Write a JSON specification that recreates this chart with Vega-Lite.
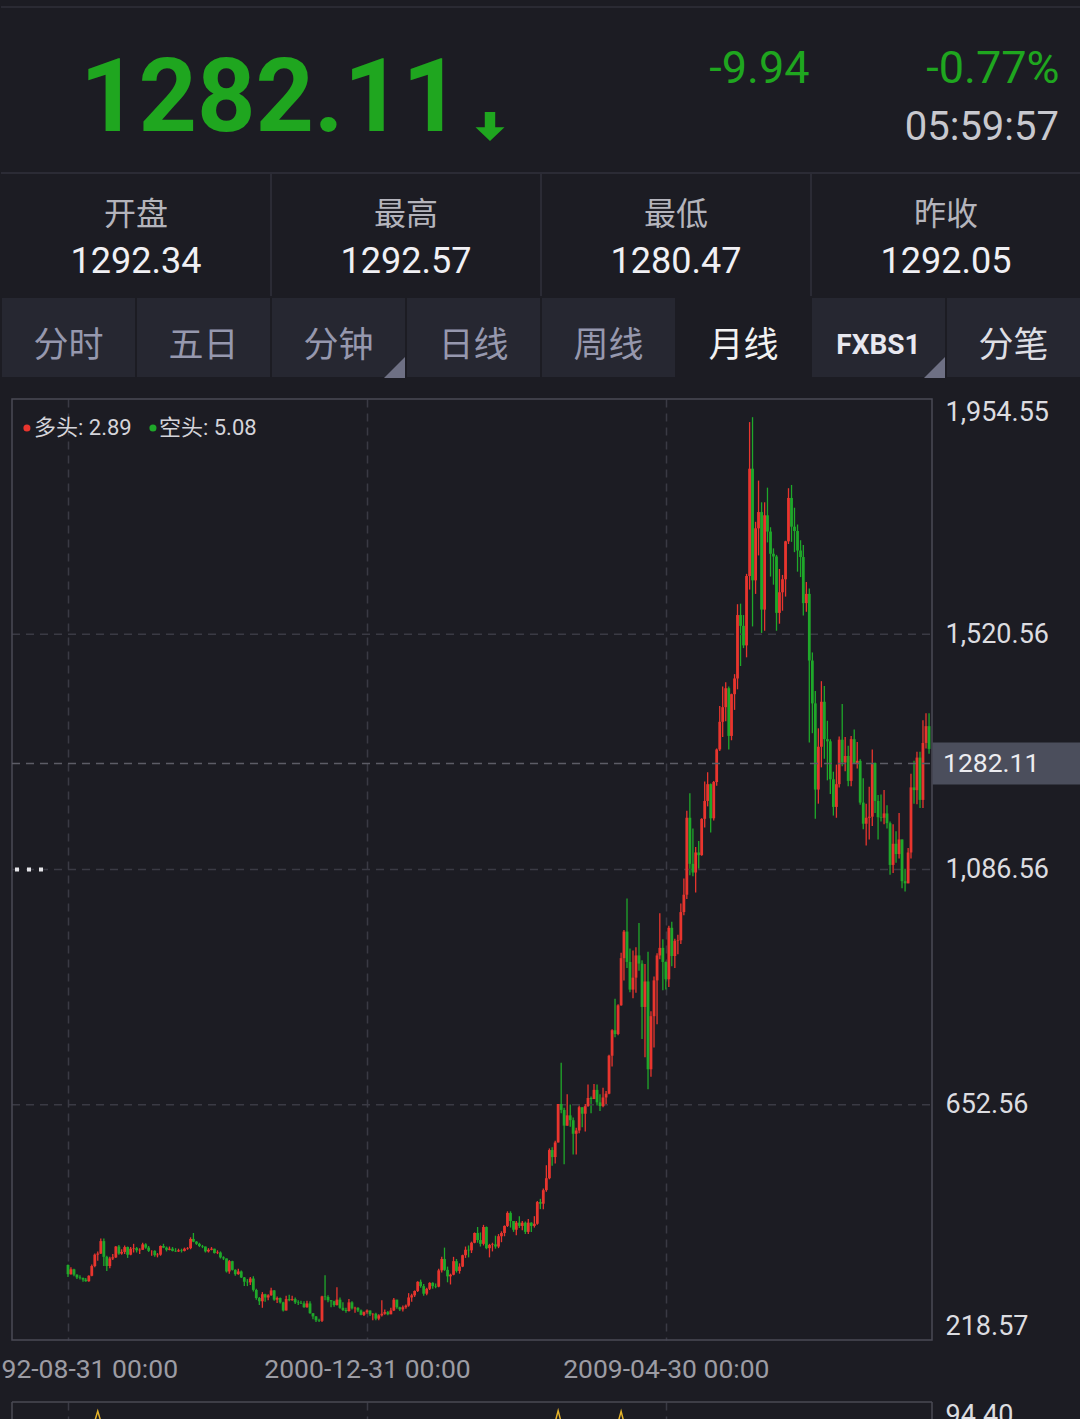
{
"$schema": "https://vega.github.io/schema/vega-lite/v6.json",
"background": "#1c1c23",
"padding": 0,
"config": {"view": {"stroke": null}, "font": "Roboto", "text": {"font": "Roboto"}, "axis": {"labelFont": "Roboto"}},
"datasets": {
"quote": [{"last": 1282.11, "chg": "-9.94", "pct": "-0.77%", "time": "05:59:57"}],
"stats": [{"name": "开盘", "v": 1292.34}, {"name": "最高", "v": 1292.57}, {"name": "最低", "v": 1280.47}, {"name": "昨收", "v": 1292.05}],
"tabs": [{"tab": "分时"}, {"tab": "五日"}, {"tab": "分钟"}, {"tab": "日线"}, {"tab": "周线"}, {"tab": "月线"}, {"tab": "FXBS1"}, {"tab": "分笔"}],
"ls": [{"name": "多头", "value": 2.89}, {"name": "空头", "value": 5.08}],
"yg": [{"v": 652.56}, {"v": 1086.56}, {"v": 1520.56}],
"ind": [
{"s":1,"d":"1993-05-10","v":80},{"s":1,"d":"1993-06-30","v":89.4},{"s":1,"d":"1993-08-20","v":80},
{"s":2,"d":"2006-03-15","v":80},{"s":2,"d":"2006-04-30","v":89.6},{"s":2,"d":"2006-06-15","v":80},
{"s":3,"d":"2007-12-15","v":80},{"s":3,"d":"2008-01-31","v":89.2},{"s":3,"d":"2008-03-15","v":80}
],
"k": [
{"d":"1992-08-31","o":357,"h":358,"l":335,"c":340},{"d":"1992-09-30","o":340,"h":353,"l":339,"c":349},{"d":"1992-10-31","o":349,"h":350,"l":336,"c":339},{"d":"1992-11-30","o":339,"h":340,"l":331,"c":334},{"d":"1992-12-31","o":334,"h":338,"l":330,"c":333},
{"d":"1993-01-31","o":333,"h":334,"l":326,"c":330},{"d":"1993-02-28","o":330,"h":333,"l":326,"c":327},{"d":"1993-03-31","o":327,"h":338,"l":326,"c":337},{"d":"1993-04-30","o":337,"h":358,"l":336,"c":355},{"d":"1993-05-31","o":355,"h":378,"l":353,"c":376},{"d":"1993-06-30","o":376,"h":382,"l":365,"c":378},{"d":"1993-07-31","o":378,"h":406,"l":377,"c":401},{"d":"1993-08-31","o":401,"h":406,"l":355,"c":372},{"d":"1993-09-30","o":372,"h":374,"l":346,"c":355},{"d":"1993-10-31","o":355,"h":372,"l":351,"c":369},{"d":"1993-11-30","o":369,"h":377,"l":366,"c":371},{"d":"1993-12-31","o":371,"h":392,"l":370,"c":391},
{"d":"1994-01-31","o":391,"h":394,"l":376,"c":378},{"d":"1994-02-28","o":378,"h":386,"l":376,"c":381},{"d":"1994-03-31","o":381,"h":393,"l":377,"c":390},{"d":"1994-04-30","o":390,"h":391,"l":370,"c":376},{"d":"1994-05-31","o":376,"h":390,"l":375,"c":387},{"d":"1994-06-30","o":387,"h":396,"l":380,"c":388},{"d":"1994-07-31","o":388,"h":390,"l":380,"c":384},{"d":"1994-08-31","o":384,"h":388,"l":377,"c":385},{"d":"1994-09-30","o":385,"h":398,"l":385,"c":395},{"d":"1994-10-31","o":395,"h":397,"l":387,"c":389},{"d":"1994-11-30","o":389,"h":392,"l":381,"c":383},{"d":"1994-12-31","o":383,"h":384,"l":374,"c":383},
{"d":"1995-01-31","o":383,"h":384,"l":372,"c":375},{"d":"1995-02-28","o":375,"h":379,"l":371,"c":376},{"d":"1995-03-31","o":376,"h":393,"l":374,"c":392},{"d":"1995-04-30","o":392,"h":396,"l":388,"c":389},{"d":"1995-05-31","o":389,"h":391,"l":382,"c":385},{"d":"1995-06-30","o":385,"h":391,"l":384,"c":387},{"d":"1995-07-31","o":387,"h":390,"l":382,"c":383},{"d":"1995-08-31","o":383,"h":388,"l":381,"c":382},{"d":"1995-09-30","o":382,"h":387,"l":381,"c":384},{"d":"1995-10-31","o":384,"h":387,"l":380,"c":383},{"d":"1995-11-30","o":383,"h":389,"l":382,"c":387},{"d":"1995-12-31","o":387,"h":390,"l":385,"c":388},
{"d":"1996-01-31","o":388,"h":408,"l":386,"c":405},{"d":"1996-02-29","o":405,"h":416,"l":399,"c":400},{"d":"1996-03-31","o":400,"h":401,"l":394,"c":396},{"d":"1996-04-30","o":396,"h":398,"l":390,"c":392},{"d":"1996-05-31","o":392,"h":394,"l":388,"c":391},{"d":"1996-06-30","o":391,"h":391,"l":380,"c":382},{"d":"1996-07-31","o":382,"h":388,"l":380,"c":385},{"d":"1996-08-31","o":385,"h":390,"l":384,"c":387},{"d":"1996-09-30","o":387,"h":387,"l":378,"c":379},{"d":"1996-10-31","o":379,"h":384,"l":377,"c":380},{"d":"1996-11-30","o":380,"h":382,"l":369,"c":371},{"d":"1996-12-31","o":371,"h":373,"l":366,"c":369},
{"d":"1997-01-31","o":369,"h":369,"l":343,"c":345},{"d":"1997-02-28","o":345,"h":366,"l":341,"c":364},{"d":"1997-03-31","o":364,"h":365,"l":347,"c":348},{"d":"1997-04-30","o":348,"h":349,"l":337,"c":340},{"d":"1997-05-31","o":340,"h":350,"l":339,"c":345},{"d":"1997-06-30","o":345,"h":347,"l":333,"c":334},{"d":"1997-07-31","o":334,"h":335,"l":318,"c":326},{"d":"1997-08-31","o":326,"h":331,"l":318,"c":325},{"d":"1997-09-30","o":325,"h":335,"l":320,"c":332},{"d":"1997-10-31","o":332,"h":336,"l":308,"c":311},{"d":"1997-11-30","o":311,"h":313,"l":293,"c":296},{"d":"1997-12-31","o":296,"h":298,"l":283,"c":290},
{"d":"1998-01-31","o":290,"h":307,"l":278,"c":303},{"d":"1998-02-28","o":303,"h":304,"l":289,"c":297},{"d":"1998-03-31","o":297,"h":303,"l":292,"c":301},{"d":"1998-04-30","o":301,"h":315,"l":300,"c":310},{"d":"1998-05-31","o":310,"h":311,"l":291,"c":293},{"d":"1998-06-30","o":293,"h":299,"l":287,"c":296},{"d":"1998-07-31","o":296,"h":297,"l":286,"c":288},{"d":"1998-08-31","o":288,"h":289,"l":271,"c":273},{"d":"1998-09-30","o":273,"h":300,"l":273,"c":294},{"d":"1998-10-31","o":294,"h":302,"l":290,"c":292},{"d":"1998-11-30","o":292,"h":300,"l":291,"c":294},{"d":"1998-12-31","o":294,"h":297,"l":285,"c":288},
{"d":"1999-01-31","o":288,"h":292,"l":283,"c":287},{"d":"1999-02-28","o":287,"h":291,"l":285,"c":286},{"d":"1999-03-31","o":286,"h":290,"l":278,"c":279},{"d":"1999-04-30","o":279,"h":291,"l":278,"c":286},{"d":"1999-05-31","o":286,"h":290,"l":267,"c":268},{"d":"1999-06-30","o":268,"h":268,"l":257,"c":262},{"d":"1999-07-31","o":262,"h":263,"l":252,"c":255},{"d":"1999-08-31","o":255,"h":258,"l":252,"c":254},{"d":"1999-09-30","o":254,"h":300,"l":252,"c":299},{"d":"1999-10-31","o":299,"h":338,"l":292,"c":298},{"d":"1999-11-30","o":298,"h":301,"l":288,"c":292},{"d":"1999-12-31","o":292,"h":292,"l":279,"c":290},
{"d":"2000-01-31","o":290,"h":291,"l":280,"c":283},{"d":"2000-02-29","o":283,"h":316,"l":282,"c":293},{"d":"2000-03-31","o":293,"h":297,"l":276,"c":278},{"d":"2000-04-30","o":278,"h":288,"l":272,"c":274},{"d":"2000-05-31","o":274,"h":278,"l":269,"c":272},{"d":"2000-06-30","o":272,"h":294,"l":271,"c":288},{"d":"2000-07-31","o":288,"h":290,"l":275,"c":277},{"d":"2000-08-31","o":277,"h":280,"l":269,"c":278},{"d":"2000-09-30","o":278,"h":279,"l":270,"c":273},{"d":"2000-10-31","o":273,"h":275,"l":264,"c":265},{"d":"2000-11-30","o":265,"h":271,"l":263,"c":270},{"d":"2000-12-31","o":270,"h":275,"l":267,"c":273},
{"d":"2001-01-31","o":273,"h":273,"l":263,"c":266},{"d":"2001-02-28","o":266,"h":268,"l":255,"c":267},{"d":"2001-03-31","o":267,"h":269,"l":255,"c":258},{"d":"2001-04-30","o":258,"h":266,"l":255,"c":264},{"d":"2001-05-31","o":264,"h":292,"l":262,"c":267},{"d":"2001-06-30","o":267,"h":275,"l":265,"c":270},{"d":"2001-07-31","o":270,"h":272,"l":264,"c":266},{"d":"2001-08-31","o":266,"h":278,"l":266,"c":273},{"d":"2001-09-30","o":273,"h":296,"l":272,"c":293},{"d":"2001-10-31","o":293,"h":293,"l":276,"c":279},{"d":"2001-11-30","o":279,"h":280,"l":272,"c":275},{"d":"2001-12-31","o":275,"h":282,"l":271,"c":279},
{"d":"2002-01-31","o":279,"h":284,"l":276,"c":282},{"d":"2002-02-28","o":282,"h":305,"l":280,"c":297},{"d":"2002-03-31","o":297,"h":304,"l":289,"c":301},{"d":"2002-04-30","o":301,"h":310,"l":298,"c":309},{"d":"2002-05-31","o":309,"h":327,"l":307,"c":326},{"d":"2002-06-30","o":326,"h":330,"l":315,"c":318},{"d":"2002-07-31","o":318,"h":322,"l":300,"c":304},{"d":"2002-08-31","o":304,"h":315,"l":301,"c":313},{"d":"2002-09-30","o":313,"h":325,"l":311,"c":324},{"d":"2002-10-31","o":324,"h":325,"l":313,"c":318},{"d":"2002-11-30","o":318,"h":323,"l":314,"c":317},{"d":"2002-12-31","o":317,"h":350,"l":316,"c":347},
{"d":"2003-01-31","o":347,"h":372,"l":343,"c":368},{"d":"2003-02-28","o":368,"h":389,"l":346,"c":348},{"d":"2003-03-31","o":348,"h":354,"l":325,"c":336},{"d":"2003-04-30","o":336,"h":341,"l":321,"c":339},{"d":"2003-05-31","o":339,"h":372,"l":338,"c":364},{"d":"2003-06-30","o":364,"h":368,"l":343,"c":346},{"d":"2003-07-31","o":346,"h":360,"l":341,"c":354},{"d":"2003-08-31","o":354,"h":376,"l":353,"c":375},{"d":"2003-09-30","o":375,"h":391,"l":370,"c":385},{"d":"2003-10-31","o":385,"h":393,"l":371,"c":384},{"d":"2003-11-30","o":384,"h":400,"l":379,"c":398},{"d":"2003-12-31","o":398,"h":417,"l":397,"c":416},
{"d":"2004-01-31","o":416,"h":427,"l":398,"c":403},{"d":"2004-02-29","o":403,"h":417,"l":391,"c":396},{"d":"2004-03-31","o":396,"h":431,"l":393,"c":427},{"d":"2004-04-30","o":427,"h":428,"l":386,"c":388},{"d":"2004-05-31","o":388,"h":396,"l":371,"c":394},{"d":"2004-06-30","o":394,"h":398,"l":382,"c":395},{"d":"2004-07-31","o":395,"h":411,"l":387,"c":391},{"d":"2004-08-31","o":391,"h":414,"l":388,"c":410},{"d":"2004-09-30","o":410,"h":419,"l":399,"c":416},{"d":"2004-10-31","o":416,"h":430,"l":410,"c":429},{"d":"2004-11-30","o":429,"h":456,"l":427,"c":453},{"d":"2004-12-31","o":453,"h":456,"l":426,"c":438},
{"d":"2005-01-31","o":438,"h":438,"l":418,"c":422},{"d":"2005-02-28","o":422,"h":438,"l":412,"c":435},{"d":"2005-03-31","o":435,"h":447,"l":425,"c":429},{"d":"2005-04-30","o":429,"h":438,"l":421,"c":435},{"d":"2005-05-31","o":435,"h":437,"l":414,"c":418},{"d":"2005-06-30","o":418,"h":442,"l":414,"c":435},{"d":"2005-07-31","o":435,"h":436,"l":418,"c":429},{"d":"2005-08-31","o":429,"h":447,"l":426,"c":433},{"d":"2005-09-30","o":433,"h":475,"l":431,"c":473},{"d":"2005-10-31","o":473,"h":479,"l":460,"c":470},{"d":"2005-11-30","o":470,"h":498,"l":460,"c":495},{"d":"2005-12-31","o":495,"h":541,"l":492,"c":517},
{"d":"2006-01-31","o":517,"h":572,"l":515,"c":569},{"d":"2006-02-28","o":569,"h":574,"l":540,"c":556},{"d":"2006-03-31","o":556,"h":586,"l":544,"c":583},{"d":"2006-04-30","o":583,"h":654,"l":583,"c":654},{"d":"2006-05-31","o":654,"h":730,"l":637,"c":643},{"d":"2006-06-30","o":643,"h":647,"l":543,"c":614},{"d":"2006-07-31","o":614,"h":672,"l":614,"c":633},{"d":"2006-08-31","o":633,"h":653,"l":612,"c":624},{"d":"2006-09-30","o":624,"h":629,"l":561,"c":599},{"d":"2006-10-31","o":599,"h":610,"l":561,"c":605},{"d":"2006-11-30","o":605,"h":651,"l":600,"c":648},{"d":"2006-12-31","o":648,"h":648,"l":611,"c":636},
{"d":"2007-01-31","o":636,"h":654,"l":603,"c":650},{"d":"2007-02-28","o":650,"h":690,"l":649,"c":665},{"d":"2007-03-31","o":665,"h":668,"l":637,"c":663},{"d":"2007-04-30","o":663,"h":691,"l":663,"c":680},{"d":"2007-05-31","o":680,"h":690,"l":651,"c":657},{"d":"2007-06-30","o":657,"h":672,"l":641,"c":650},{"d":"2007-07-31","o":650,"h":684,"l":648,"c":666},{"d":"2007-08-31","o":666,"h":678,"l":652,"c":673},{"d":"2007-09-30","o":673,"h":745,"l":672,"c":743},{"d":"2007-10-31","o":743,"h":792,"l":723,"c":790},{"d":"2007-11-30","o":790,"h":848,"l":777,"c":783},{"d":"2007-12-31","o":783,"h":838,"l":781,"c":836},
{"d":"2008-01-31","o":836,"h":933,"l":835,"c":923},{"d":"2008-02-29","o":923,"h":975,"l":882,"c":972},{"d":"2008-03-31","o":972,"h":1033,"l":905,"c":916},{"d":"2008-04-30","o":916,"h":941,"l":860,"c":865},{"d":"2008-05-31","o":865,"h":937,"l":849,"c":887},{"d":"2008-06-30","o":887,"h":943,"l":859,"c":928},{"d":"2008-07-31","o":928,"h":988,"l":900,"c":913},{"d":"2008-08-31","o":913,"h":919,"l":774,"c":833},{"d":"2008-09-30","o":833,"h":912,"l":740,"c":880},{"d":"2008-10-31","o":880,"h":935,"l":681,"c":718},{"d":"2008-11-30","o":718,"h":825,"l":704,"c":816},{"d":"2008-12-31","o":816,"h":889,"l":758,"c":882},
{"d":"2009-01-31","o":882,"h":932,"l":801,"c":928},{"d":"2009-02-28","o":928,"h":1006,"l":921,"c":942},{"d":"2009-03-31","o":942,"h":958,"l":864,"c":916},{"d":"2009-04-30","o":916,"h":917,"l":865,"c":884},{"d":"2009-05-31","o":884,"h":983,"l":870,"c":979},{"d":"2009-06-30","o":979,"h":990,"l":908,"c":927},{"d":"2009-07-31","o":927,"h":959,"l":905,"c":955},{"d":"2009-08-31","o":955,"h":966,"l":930,"c":956},{"d":"2009-09-30","o":956,"h":1024,"l":949,"c":1008},{"d":"2009-10-31","o":1008,"h":1070,"l":1002,"c":1040},{"d":"2009-11-30","o":1040,"h":1195,"l":1032,"c":1182},{"d":"2009-12-31","o":1182,"h":1227,"l":1076,"c":1097},
{"d":"2010-01-31","o":1097,"h":1162,"l":1074,"c":1081},{"d":"2010-02-28","o":1081,"h":1128,"l":1044,"c":1118},{"d":"2010-03-31","o":1118,"h":1139,"l":1088,"c":1113},{"d":"2010-04-30","o":1113,"h":1181,"l":1112,"c":1180},{"d":"2010-05-31","o":1180,"h":1249,"l":1164,"c":1213},{"d":"2010-06-30","o":1213,"h":1266,"l":1203,"c":1244},{"d":"2010-07-31","o":1244,"h":1245,"l":1155,"c":1181},{"d":"2010-08-31","o":1181,"h":1250,"l":1177,"c":1248},{"d":"2010-09-30","o":1248,"h":1310,"l":1241,"c":1308},{"d":"2010-10-31","o":1308,"h":1388,"l":1305,"c":1359},{"d":"2010-11-30","o":1359,"h":1424,"l":1331,"c":1386},{"d":"2010-12-31","o":1386,"h":1432,"l":1360,"c":1421},
{"d":"2011-01-31","o":1421,"h":1424,"l":1308,"c":1333},{"d":"2011-02-28","o":1333,"h":1411,"l":1325,"c":1410},{"d":"2011-03-31","o":1410,"h":1447,"l":1381,"c":1439},{"d":"2011-04-30","o":1439,"h":1576,"l":1419,"c":1556},{"d":"2011-05-31","o":1556,"h":1577,"l":1462,"c":1536},{"d":"2011-06-30","o":1536,"h":1556,"l":1495,"c":1500},{"d":"2011-07-31","o":1500,"h":1632,"l":1478,"c":1628},{"d":"2011-08-31","o":1628,"h":1912,"l":1603,"c":1826},{"d":"2011-09-30","o":1826,"h":1921,"l":1535,"c":1620},{"d":"2011-10-31","o":1620,"h":1728,"l":1595,"c":1716},{"d":"2011-11-30","o":1716,"h":1804,"l":1666,"c":1746},{"d":"2011-12-31","o":1746,"h":1764,"l":1523,"c":1566},
{"d":"2012-01-31","o":1566,"h":1764,"l":1527,"c":1740},{"d":"2012-02-29","o":1740,"h":1791,"l":1690,"c":1710},{"d":"2012-03-31","o":1710,"h":1718,"l":1627,"c":1669},{"d":"2012-04-30","o":1669,"h":1679,"l":1612,"c":1664},{"d":"2012-05-31","o":1664,"h":1667,"l":1527,"c":1560},{"d":"2012-06-30","o":1560,"h":1641,"l":1540,"c":1598},{"d":"2012-07-31","o":1598,"h":1630,"l":1564,"c":1622},{"d":"2012-08-31","o":1622,"h":1693,"l":1590,"c":1692},{"d":"2012-09-30","o":1692,"h":1790,"l":1687,"c":1772},{"d":"2012-10-31","o":1772,"h":1796,"l":1691,"c":1719},{"d":"2012-11-30","o":1719,"h":1754,"l":1672,"c":1711},{"d":"2012-12-31","o":1711,"h":1723,"l":1636,"c":1675},
{"d":"2013-01-31","o":1675,"h":1694,"l":1626,"c":1663},{"d":"2013-02-28","o":1663,"h":1685,"l":1555,"c":1578},{"d":"2013-03-31","o":1578,"h":1617,"l":1562,"c":1595},{"d":"2013-04-30","o":1595,"h":1605,"l":1321,"c":1472},{"d":"2013-05-31","o":1472,"h":1487,"l":1338,"c":1393},{"d":"2013-06-30","o":1393,"h":1416,"l":1180,"c":1234},{"d":"2013-07-31","o":1234,"h":1347,"l":1208,"c":1313},{"d":"2013-08-31","o":1313,"h":1434,"l":1275,"c":1396},{"d":"2013-09-30","o":1396,"h":1425,"l":1291,"c":1327},{"d":"2013-10-31","o":1327,"h":1361,"l":1251,"c":1323},{"d":"2013-11-30","o":1323,"h":1327,"l":1226,"c":1253},{"d":"2013-12-31","o":1253,"h":1267,"l":1186,"c":1202},
{"d":"2014-01-31","o":1202,"h":1280,"l":1182,"c":1244},{"d":"2014-02-28","o":1244,"h":1332,"l":1238,"c":1326},{"d":"2014-03-31","o":1326,"h":1392,"l":1277,"c":1284},{"d":"2014-04-30","o":1284,"h":1331,"l":1268,"c":1296},{"d":"2014-05-31","o":1296,"h":1315,"l":1240,"c":1250},{"d":"2014-06-30","o":1250,"h":1333,"l":1240,"c":1327},{"d":"2014-07-31","o":1327,"h":1345,"l":1281,"c":1282},{"d":"2014-08-31","o":1282,"h":1322,"l":1273,"c":1287},{"d":"2014-09-30","o":1287,"h":1290,"l":1206,"c":1210},{"d":"2014-10-31","o":1210,"h":1255,"l":1161,"c":1171},{"d":"2014-11-30","o":1171,"h":1208,"l":1131,"c":1182},{"d":"2014-12-31","o":1182,"h":1239,"l":1142,"c":1184},
{"d":"2015-01-31","o":1184,"h":1308,"l":1167,"c":1283},{"d":"2015-02-28","o":1283,"h":1284,"l":1191,"c":1213},{"d":"2015-03-31","o":1213,"h":1224,"l":1142,"c":1183},{"d":"2015-04-30","o":1183,"h":1225,"l":1175,"c":1182},{"d":"2015-05-31","o":1182,"h":1233,"l":1170,"c":1190},{"d":"2015-06-30","o":1190,"h":1205,"l":1162,"c":1172},{"d":"2015-07-31","o":1172,"h":1175,"l":1077,"c":1095},{"d":"2015-08-31","o":1095,"h":1170,"l":1080,"c":1134},{"d":"2015-09-30","o":1134,"h":1157,"l":1099,"c":1115},{"d":"2015-10-31","o":1115,"h":1191,"l":1107,"c":1142},{"d":"2015-11-30","o":1142,"h":1142,"l":1052,"c":1065},{"d":"2015-12-31","o":1065,"h":1088,"l":1046,"c":1061},
{"d":"2016-01-31","o":1061,"h":1126,"l":1061,"c":1118},{"d":"2016-02-29","o":1118,"h":1263,"l":1107,"c":1238},{"d":"2016-03-31","o":1238,"h":1287,"l":1208,"c":1233},{"d":"2016-04-30","o":1233,"h":1304,"l":1207,"c":1293},{"d":"2016-05-31","o":1293,"h":1304,"l":1200,"c":1215},{"d":"2016-06-30","o":1215,"h":1362,"l":1200,"c":1320},{"d":"2016-07-31","o":1320,"h":1375,"l":1310,"c":1351},{"d":"2016-08-31","o":1351,"h":1375,"l":1300,"c":1309}
]
},
"vconcat": [
{
"width": 1080, "height": 173,
"data": {"name": "quote"},
"layer": [
{"mark": {"type": "rule", "color": "#2a2a33", "strokeWidth": 2},
 "encoding": {"y": {"datum": 7, "type": "quantitative", "scale": {"domain": [0, 173], "reverse": true, "nice": false, "zero": false}, "axis": null}}},
{"mark": {"type": "text", "align": "left", "baseline": "alphabetic", "fontSize": 102, "fontWeight": "bold", "color": "#1fa61f", "font": "Roboto"},
 "encoding": {"x": {"datum": 79, "type": "quantitative", "scale": {"domain": [0, 1080], "nice": false, "zero": false}, "axis": null},
  "y": {"datum": 131, "type": "quantitative", "scale": {"domain": [0, 173], "reverse": true, "nice": false, "zero": false}, "axis": null},
  "text": {"field": "last", "type": "quantitative", "format": ".2f"}}},
{"mark": {"type": "point", "shape": "M-0.36,-1L0.36,-1L0.36,0.05L1,0.05L0,1L-1,0.05L-0.36,0.05Z", "filled": true, "size": 841, "color": "#1fa61f", "opacity": 1, "strokeWidth": 0},
 "encoding": {"x": {"datum": 489, "type": "quantitative", "scale": {"domain": [0, 1080], "nice": false, "zero": false}, "axis": null},
  "y": {"datum": 126.5, "type": "quantitative", "scale": {"domain": [0, 173], "reverse": true, "nice": false, "zero": false}, "axis": null}}},
{"mark": {"type": "text", "align": "right", "baseline": "alphabetic", "fontSize": 45, "color": "#1fa61f"},
 "encoding": {"x": {"datum": 808.5, "type": "quantitative", "scale": {"domain": [0, 1080], "nice": false, "zero": false}, "axis": null},
  "y": {"datum": 83, "type": "quantitative", "scale": {"domain": [0, 173], "reverse": true, "nice": false, "zero": false}, "axis": null},
  "text": {"field": "chg"}}},
{"mark": {"type": "text", "align": "right", "baseline": "alphabetic", "fontSize": 45, "color": "#1fa61f"},
 "encoding": {"x": {"datum": 1058.5, "type": "quantitative", "scale": {"domain": [0, 1080], "nice": false, "zero": false}, "axis": null},
  "y": {"datum": 83, "type": "quantitative", "scale": {"domain": [0, 173], "reverse": true, "nice": false, "zero": false}, "axis": null},
  "text": {"field": "pct"}}},
{"mark": {"type": "text", "align": "right", "baseline": "alphabetic", "fontSize": 40, "color": "#c8c8ce"},
 "encoding": {"x": {"datum": 1058, "type": "quantitative", "scale": {"domain": [0, 1080], "nice": false, "zero": false}, "axis": null},
  "y": {"datum": 139.5, "type": "quantitative", "scale": {"domain": [0, 173], "reverse": true, "nice": false, "zero": false}, "axis": null},
  "text": {"field": "time"}}}
]
},
{
"width": 1080, "height": 124,
"data": {"name": "stats"},
"layer": [
{"mark": {"type": "rule", "color": "#2b2b35", "strokeWidth": 2},
 "encoding": {"y": {"datum": 0, "type": "quantitative", "scale": {"domain": [0, 124], "reverse": true, "nice": false, "zero": false}, "axis": null}}},
{"transform": [{"filter": "datum.name != '开盘'"}],
 "mark": {"type": "rule", "color": "#2b2b35", "strokeWidth": 2},
 "encoding": {"x": {"field": "name", "type": "nominal", "bandPosition": 0, "scale": {"type": "band", "domain": ["开盘", "最高", "最低", "昨收"], "paddingInner": 0, "paddingOuter": 0}, "axis": null},
  "y": {"datum": 0, "type": "quantitative", "scale": {"domain": [0, 124], "reverse": true, "nice": false, "zero": false}, "axis": null},
  "y2": {"datum": 124}}},
{"mark": {"type": "text", "baseline": "middle", "fontSize": 32, "color": "#b4b4bc", "font": "Noto Sans CJK SC"},
 "encoding": {"x": {"field": "name", "type": "nominal", "scale": {"type": "band", "domain": ["开盘", "最高", "最低", "昨收"], "paddingInner": 0, "paddingOuter": 0}, "axis": null},
  "y": {"datum": 42, "type": "quantitative", "scale": {"domain": [0, 124], "reverse": true, "nice": false, "zero": false}, "axis": null},
  "text": {"field": "name"}}},
{"mark": {"type": "text", "baseline": "alphabetic", "fontSize": 36, "color": "#f0f0f4"},
 "encoding": {"x": {"field": "name", "type": "nominal", "scale": {"type": "band", "domain": ["开盘", "最高", "最低", "昨收"], "paddingInner": 0, "paddingOuter": 0}, "axis": null},
  "y": {"datum": 100, "type": "quantitative", "scale": {"domain": [0, 124], "reverse": true, "nice": false, "zero": false}, "axis": null},
  "text": {"field": "v", "type": "quantitative", "format": ".2f"}}}
]
},
{
"width": 1080, "height": 81,
"data": {"name": "tabs"},
"layer": [
{"mark": {"type": "bar", "stroke": "#1c1c23", "strokeWidth": 2},
 "encoding": {"x": {"field": "tab", "type": "nominal", "sort": null, "scale": {"type": "band", "domain": ["分时", "五日", "分钟", "日线", "周线", "月线", "FXBS1", "分笔"], "paddingInner": 0, "paddingOuter": 0}, "axis": null},
  "y": {"datum": 0, "type": "quantitative", "scale": {"domain": [0, 81], "reverse": true, "nice": false, "zero": false}, "axis": null},
  "y2": {"datum": 81},
  "color": {"condition": {"test": "datum.tab == '月线'", "value": "#1c1c23"}, "value": "#262731"}}},
{"transform": [{"filter": "datum.tab != 'FXBS1'"}],
 "mark": {"type": "text", "baseline": "middle", "fontSize": 35, "font": "Noto Sans CJK SC"},
 "encoding": {"x": {"field": "tab", "type": "nominal", "scale": {"type": "band", "domain": ["分时", "五日", "分钟", "日线", "周线", "月线", "FXBS1", "分笔"], "paddingInner": 0, "paddingOuter": 0}, "axis": null},
  "y": {"datum": 49, "type": "quantitative", "scale": {"domain": [0, 81], "reverse": true, "nice": false, "zero": false}, "axis": null},
  "text": {"field": "tab"},
  "color": {"condition": [{"test": "datum.tab == '月线'", "value": "#f2f2f2"}, {"test": "datum.tab == '分笔'", "value": "#dedee4"}], "value": "#9698ae"}}},
{"transform": [{"filter": "datum.tab == 'FXBS1'"}],
 "mark": {"type": "text", "baseline": "middle", "fontSize": 28, "fontWeight": "bold", "color": "#e8e8f0", "font": "Roboto"},
 "encoding": {"x": {"field": "tab", "type": "nominal", "scale": {"type": "band", "domain": ["分时", "五日", "分钟", "日线", "周线", "月线", "FXBS1", "分笔"], "paddingInner": 0, "paddingOuter": 0}, "axis": null},
  "y": {"datum": 49, "type": "quantitative", "scale": {"domain": [0, 81], "reverse": true, "nice": false, "zero": false}, "axis": null},
  "text": {"field": "tab"}}},
{"transform": [{"filter": "datum.tab == '分钟' || datum.tab == 'FXBS1'"}],
 "mark": {"type": "point", "shape": "M1,-1L1,1L-1,1Z", "filled": true, "size": 441, "color": "#6e7084", "opacity": 1, "strokeWidth": 0, "xOffset": -11.5},
 "encoding": {"x": {"field": "tab", "type": "nominal", "bandPosition": 1, "scale": {"type": "band", "domain": ["分时", "五日", "分钟", "日线", "周线", "月线", "FXBS1", "分笔"], "paddingInner": 0, "paddingOuter": 0}, "axis": null},
  "y": {"datum": 70.5, "type": "quantitative", "scale": {"domain": [0, 81], "reverse": true, "nice": false, "zero": false}, "axis": null}}}
]
},
{
"width": 10, "height": 21,
"data": {"name": "quote"},
"mark": {"type": "rule", "opacity": 0},
"encoding": {"y": {"datum": 0, "type": "quantitative", "axis": null}}
},
{
"width": 931, "height": 941,
"resolve": {"axis": {"y": "independent"}},
"layer": [
{"data": {"name": "k"},
 "mark": {"type": "rule", "strokeWidth": 1.3},
 "encoding": {
  "x": {"field": "d", "type": "temporal",
   "scale": {"type": "utc", "domain": [{"year": 1991, "month": 2, "date": 8, "utc": true}, {"year": 2016, "month": 9, "date": 30, "utc": true}], "range": [11, 931], "padding": 0},
   "axis": {"values": [{"year": 1992, "month": 8, "date": 31, "utc": true}, {"year": 2000, "month": 12, "date": 31, "utc": true}, {"year": 2009, "month": 4, "date": 30, "utc": true}],
    "format": "%Y-%m-%d %H:%M", "labelExpr": "datum.index == 0 ? slice(datum.label, 2) : datum.label",
    "labelAlign": {"condition": {"test": "datum.index == 0", "value": "left"}, "value": "center"},
    "labelOffset": {"condition": {"test": "datum.index == 0", "value": -67}, "value": 0},
    "labelColor": "#9c9ca4", "labelFontSize": 26.5, "labelPadding": 16, "labelOverlap": false, "labelFlush": false, "labelLimit": 0,
    "ticks": false, "domain": false, "grid": true, "gridColor": "#3a3a44", "gridDash": [8, 6], "gridWidth": 1.5, "title": null}},
  "y": {"field": "l", "type": "quantitative", "scale": {"domain": [218.57, 1954.55], "zero": false, "nice": false, "padding": 0},
   "axis": {"orient": "right", "values": [218.57, 652.56, 1086.56, 1520.56, 1954.55], "format": ",.2f", "labelFlush": true,
    "labelColor": "#dcdce0", "labelFontSize": 27, "labelPadding": 13, "ticks": false, "domain": false,
    "grid": false, "title": null}},
  "y2": {"field": "h"},
  "color": {"condition": {"test": "datum.c >= datum.o", "value": "#e8352e"}, "value": "#1fa82a"}}},
{"data": {"name": "yg"},
 "mark": {"type": "rule", "strokeDash": [8, 6], "color": "#3a3a44", "strokeWidth": 1.5},
 "encoding": {
  "x": {"datum": {"year": 1991, "month": 2, "date": 8, "utc": true}, "type": "temporal"},
  "x2": {"datum": {"year": 2016, "month": 9, "date": 30, "utc": true}},
  "y": {"field": "v", "type": "quantitative", "axis": null}}},
{"data": {"name": "quote"},
 "mark": {"type": "rect", "filled": false, "color": "#4a4a55", "strokeWidth": 1.5},
 "encoding": {
  "x": {"datum": {"year": 1991, "month": 2, "date": 8, "utc": true}, "type": "temporal"},
  "x2": {"datum": {"year": 2016, "month": 9, "date": 30, "utc": true}},
  "y": {"datum": 1954.55, "type": "quantitative", "axis": null},
  "y2": {"datum": 218.57}}},
{"data": {"name": "quote"},
 "mark": {"type": "point", "shape": "M-1,-0.143L-0.714,-0.143L-0.714,0.143L-1,0.143Z M-0.143,-0.143L0.143,-0.143L0.143,0.143L-0.143,0.143Z M0.714,-0.143L1,-0.143L1,0.143L0.714,0.143Z", "filled": true, "size": 784, "color": "#e4e4e8", "opacity": 1, "strokeWidth": 0},
 "encoding": {
  "x": {"datum": {"year": 1991, "month": 7, "date": 31, "utc": true}, "type": "temporal"},
  "y": {"datum": 1086.56, "type": "quantitative", "axis": null}}},
{"data": {"name": "k"},
 "mark": {"type": "bar", "size": 2.8},
 "encoding": {
  "x": {"field": "d", "type": "temporal"},
  "y": {"field": "o", "type": "quantitative", "axis": null},
  "y2": {"field": "c"},
  "color": {"condition": {"test": "datum.c >= datum.o", "value": "#e8352e"}, "value": "#1fa82a"}}},
{"data": {"name": "quote"},
 "mark": {"type": "rule", "strokeDash": [8, 6], "color": "#5c5c66", "strokeWidth": 1.5},
 "encoding": {
  "x": {"datum": {"year": 1991, "month": 2, "date": 8, "utc": true}, "type": "temporal"},
  "x2": {"datum": {"year": 2016, "month": 9, "date": 30, "utc": true}},
  "y": {"field": "last", "type": "quantitative", "axis": null}}},
{"data": {"name": "quote"},
 "mark": {"type": "bar", "size": 42, "color": "#4b4e5c", "orient": "horizontal"},
 "encoding": {
  "x": {"datum": {"year": 2016, "month": 10, "date": 5, "utc": true}, "type": "temporal"},
  "x2": {"datum": {"year": 2020, "month": 11, "date": 25, "utc": true}},
  "y": {"field": "last", "type": "quantitative", "axis": null}}},
{"data": {"name": "quote"},
 "mark": {"type": "text", "align": "left", "baseline": "middle", "fontSize": 26.5, "color": "#ececf0"},
 "encoding": {
  "x": {"datum": {"year": 2017, "month": 1, "date": 20, "utc": true}, "type": "temporal"},
  "y": {"field": "last", "type": "quantitative", "axis": null},
  "text": {"field": "last", "type": "quantitative", "format": ".2f"}}},
{"data": {"name": "ls"}, "transform": [{"filter": "datum.name == '多头'"}],
 "mark": {"type": "point", "filled": true, "size": 50, "color": "#e8352e", "opacity": 1},
 "encoding": {"x": {"datum": {"year": 1991, "month": 7, "date": 10, "utc": true}, "type": "temporal"},
  "y": {"datum": 1901, "type": "quantitative", "axis": null}}},
{"data": {"name": "ls"}, "transform": [{"filter": "datum.name == '空头'"}],
 "mark": {"type": "point", "filled": true, "size": 50, "color": "#1fa82a", "opacity": 1},
 "encoding": {"x": {"datum": {"year": 1995, "month": 1, "date": 13, "utc": true}, "type": "temporal"},
  "y": {"datum": 1901, "type": "quantitative", "axis": null}}},
{"data": {"name": "ls"}, "transform": [{"filter": "datum.name == '多头'"}, {"calculate": "datum.name + ': ' + format(datum.value, '.2f')", "as": "label"}],
 "mark": {"type": "text", "align": "left", "baseline": "middle", "fontSize": 22, "color": "#d4d4da", "font": "Roboto, Noto Sans CJK SC"},
 "encoding": {"x": {"datum": {"year": 1991, "month": 9, "date": 20, "utc": true}, "type": "temporal"},
  "y": {"datum": 1901, "type": "quantitative", "axis": null},
  "text": {"field": "label"}}},
{"data": {"name": "ls"}, "transform": [{"filter": "datum.name == '空头'"}, {"calculate": "datum.name + ': ' + format(datum.value, '.2f')", "as": "label"}],
 "mark": {"type": "text", "align": "left", "baseline": "middle", "fontSize": 22, "color": "#d4d4da", "font": "Roboto, Noto Sans CJK SC"},
 "encoding": {"x": {"datum": {"year": 1995, "month": 3, "date": 15, "utc": true}, "type": "temporal"},
  "y": {"datum": 1901, "type": "quantitative", "axis": null},
  "text": {"field": "label"}}}
]
},
{
"width": 10, "height": 62,
"data": {"name": "quote"},
"mark": {"type": "rule", "opacity": 0},
"encoding": {"y": {"datum": 0, "type": "quantitative", "axis": null}}
},
{
"width": 931, "height": 17,
"resolve": {"axis": {"y": "independent"}},
"layer": [
{"data": {"name": "ind"},
 "mark": {"type": "line", "color": "#e5b32a", "strokeWidth": 1.5, "clip": true},
 "encoding": {
  "x": {"field": "d", "type": "temporal",
   "scale": {"type": "utc", "domain": [{"year": 1991, "month": 2, "date": 8, "utc": true}, {"year": 2016, "month": 9, "date": 30, "utc": true}], "range": [11, 931], "padding": 0},
   "axis": {"values": [{"year": 1992, "month": 8, "date": 31, "utc": true}, {"year": 2000, "month": 12, "date": 31, "utc": true}, {"year": 2009, "month": 4, "date": 30, "utc": true}],
    "labels": false, "ticks": false, "domain": false, "grid": true, "gridColor": "#3a3a44", "gridDash": [8, 6], "gridWidth": 1.5, "title": null}},
  "y": {"field": "v", "type": "quantitative", "scale": {"domain": [85, 94.4], "zero": false, "nice": false},
   "axis": {"orient": "right", "values": [94.4], "format": ".2f", "labelBaseline": "top", "labelColor": "#dcdce0", "labelFontSize": 27, "labelPadding": 13,
    "ticks": false, "domain": false, "grid": false, "title": null}},
  "detail": {"field": "s", "type": "nominal"}}},
{"data": {"name": "quote"},
 "mark": {"type": "rule", "color": "#4a4a55", "strokeWidth": 1.5},
 "encoding": {
  "x": {"datum": {"year": 1991, "month": 2, "date": 8, "utc": true}, "type": "temporal"},
  "x2": {"datum": {"year": 2016, "month": 9, "date": 30, "utc": true}},
  "y": {"datum": 94.4, "type": "quantitative", "axis": null}}},
{"data": {"name": "quote"},
 "mark": {"type": "rule", "color": "#4a4a55", "strokeWidth": 1.5},
 "encoding": {
  "x": {"datum": {"year": 1991, "month": 2, "date": 8, "utc": true}, "type": "temporal"},
  "y": {"datum": 94.4, "type": "quantitative", "axis": null},
  "y2": {"datum": 85}}},
{"data": {"name": "quote"},
 "mark": {"type": "rule", "color": "#4a4a55", "strokeWidth": 1.5},
 "encoding": {
  "x": {"datum": {"year": 2016, "month": 9, "date": 30, "utc": true}, "type": "temporal"},
  "y": {"datum": 94.4, "type": "quantitative", "axis": null},
  "y2": {"datum": 85}}}
]
}
],
"spacing": 0,
"bounds": "flush"
}
